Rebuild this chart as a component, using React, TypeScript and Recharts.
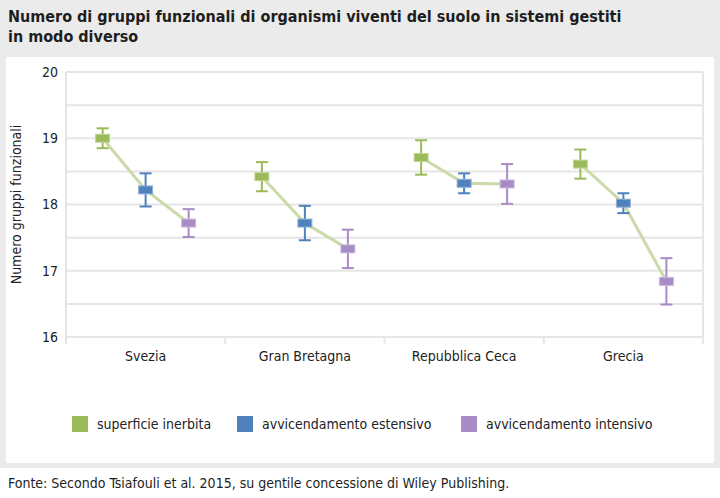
import React from 'react';
import { ComposedChart, Line, Scatter, ErrorBar, XAxis, YAxis, CartesianGrid, ReferenceLine } from 'recharts';

const countries = ['Svezia', 'Gran Bretagna', 'Repubblica Ceca', 'Grecia'];
const seriesNames = ['superficie inerbita', 'avvicendamento estensivo', 'avvicendamento intensivo'];
const superficieInerbita = [19.0, 18.42, 18.71, 18.61];
const superficieErr = [0.15, 0.22, 0.26, 0.22];
const avvEstensivo = [18.22, 17.72, 18.32, 18.02];
const avvEstensivoErr = [0.25, 0.26, 0.15, 0.15];
const avvIntensivo = [17.72, 17.33, 18.31, 16.84];
const avvIntensivoErr = [0.21, 0.29, 0.3, 0.35];
const yTicks = [16, 16.5, 17, 17.5, 18, 18.5, 19, 19.5, 20];
const catEdges = [0, 1, 2, 3, 4];

const colors = ['#9bbb59', '#4f81bd', '#a98bc6'];
const edges = ['#c3d79b', '#93b0d8', '#cbb8dc'];
const lineColor = '#cadaa9';
const gridColor = '#e6e6e6';
const font = "'DejaVu Sans Condensed', 'Liberation Sans Narrow', 'Roboto', sans-serif";

// x position of a point: category index plus a small offset per management type
const slot = (cat: number, s: number) => cat + 0.5 + (s - 1) * 0.27;

const seriesValues = [superficieInerbita, avvEstensivo, avvIntensivo];
const seriesErr = [superficieErr, avvEstensivoErr, avvIntensivoErr];

const seriesData = seriesValues.map((vals, s) =>
  vals.map((v, c) => ({ x: slot(c, s), y: v, err: seriesErr[s][c] }))
);
const groupData = countries.map((_, c) =>
  seriesValues.map((vals, s) => ({ x: slot(c, s), y: vals[c] }))
);

const marker = (s: number) => (props: any) => (
  <rect x={props.cx - 7} y={props.cy - 4} width={14} height={8} fill={colors[s]} stroke={edges[s]} strokeWidth={1} />
);

const App: React.FC = () => {
  return (
    <div style={{ position: 'absolute', left: 0, top: 0, width: 720, height: 498, background: '#ebebeb', fontFamily: font, overflow: 'hidden' }}>
      <div style={{ position: 'absolute', left: 8, top: 7, fontSize: 16, lineHeight: '20px', fontWeight: 'bold', color: '#1e1e1e', width: 700 }}>
        Numero di gruppi funzionali di organismi viventi del suolo in sistemi gestiti
        <br />
        in modo diverso
      </div>
      <div style={{ position: 'absolute', left: 6, top: 57, width: 708, height: 406, background: '#fff' }}>
        <ComposedChart width={708} height={318} margin={{ top: 15, right: 11, left: 0, bottom: 0 }}>
          <CartesianGrid vertical={false} stroke={gridColor} strokeWidth={2} />
          <XAxis
            dataKey="x"
            type="number"
            domain={[0, 4]}
            allowDataOverflow
            ticks={[0.5, 1.5, 2.5, 3.5]}
            tickFormatter={(v: number) => countries[Math.floor(v)]}
            tick={{ fill: '#222', fontSize: 14, fontFamily: font }}
            tickLine={false}
            tickMargin={8}
            axisLine={{ stroke: gridColor, strokeWidth: 2 }}
            height={38}
          />
          <YAxis
            type="number"
            domain={[16, 20]}
            allowDataOverflow
            ticks={yTicks}
            tickFormatter={(v: number) => (Number.isInteger(v) ? String(v) : '')}
            tick={{ fill: '#222', fontSize: 14, fontFamily: font }}
            tickLine={false}
            axisLine={{ stroke: gridColor, strokeWidth: 2 }}
            width={60}
            label={{ value: 'Numero gruppi funzionali', angle: -90, position: 'insideLeft', offset: 10, style: { textAnchor: 'middle', fontSize: 14, fill: '#222', fontFamily: font } }}
          />
          <ReferenceLine x={4} stroke={gridColor} strokeWidth={2} />
          {catEdges.map((e) => (
            <ReferenceLine
              key={e}
              segment={[{ x: e, y: 16 }, { x: e, y: 15.895 }]}
              stroke={gridColor}
              strokeWidth={2}
              ifOverflow="visible"
            />
          ))}
          {groupData.map((g, c) => (
            <Line
              key={countries[c]}
              data={g}
              dataKey="y"
              type="linear"
              stroke={lineColor}
              strokeWidth={3}
              dot={false}
              activeDot={false}
              isAnimationActive={false}
            />
          ))}
          {seriesData.map((d, s) => (
            <Scatter key={seriesNames[s]} data={d} dataKey="y" shape={marker(s)} isAnimationActive={false}>
              <ErrorBar dataKey="err" direction="y" width={6} stroke={colors[s]} strokeWidth={2} />
            </Scatter>
          ))}
        </ComposedChart>
      </div>
      {seriesNames.map((name, s) => (
        <div key={name} style={{ position: 'absolute', left: [72, 237, 461][s], top: 416, display: 'flex', alignItems: 'center', fontSize: 14, color: '#222' }}>
          <span style={{ display: 'inline-block', width: 16, height: 16, background: colors[s], marginRight: 9 }} />
          <span>{name}</span>
        </div>
      ))}
      <div style={{ position: 'absolute', left: 0, top: 468, width: 720, height: 30, background: '#fff' }}>
        <div style={{ position: 'absolute', left: 8, top: 7, fontSize: 14, color: '#1e1e1e' }}>
          Fonte: Secondo Tsiafouli et al. 2015, su gentile concessione di Wiley Publishing.
        </div>
      </div>
    </div>
  );
};

export default App;
